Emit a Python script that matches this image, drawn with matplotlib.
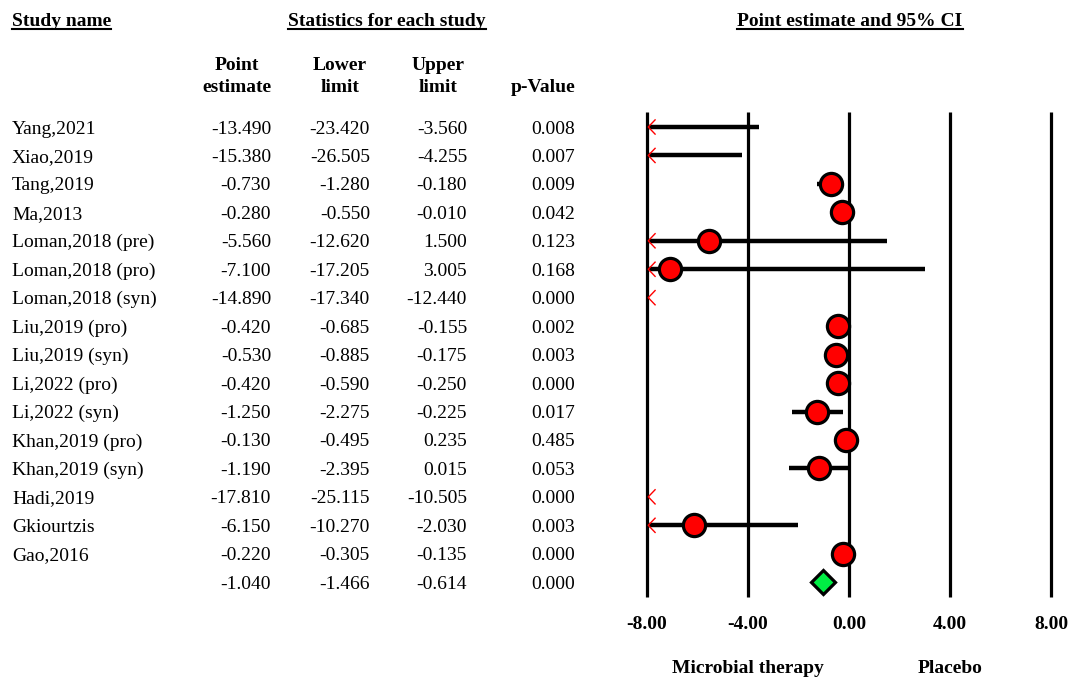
import numpy as np
import matplotlib
matplotlib.use("Agg")
import matplotlib.pyplot as plt
from matplotlib.transforms import blended_transform_factory

plt.rcParams['font.family'] = ['Liberation Serif', 'DejaVu Serif']

studies = ["Yang,2021", "Xiao,2019", "Tang,2019", "Ma,2013", "Loman,2018 (pre)",
           "Loman,2018 (pro)", "Loman,2018 (syn)", "Liu,2019 (pro)", "Liu,2019 (syn)",
           "Li,2022 (pro)", "Li,2022 (syn)", "Khan,2019 (pro)", "Khan,2019 (syn)",
           "Hadi,2019", "Gkiourtzis", "Gao,2016", ""]
point = np.array([-13.490, -15.380, -0.730, -0.280, -5.560, -7.100, -14.890, -0.420,
                  -0.530, -0.420, -1.250, -0.130, -1.190, -17.810, -6.150, -0.220, -1.040])
lower = np.array([-23.420, -26.505, -1.280, -0.550, -12.620, -17.205, -17.340, -0.685,
                  -0.885, -0.590, -2.275, -0.495, -2.395, -25.115, -10.270, -0.305, -1.466])
upper = np.array([-3.560, -4.255, -0.180, -0.010, 1.500, 3.005, -12.440, -0.155,
                  -0.175, -0.250, -0.225, 0.235, 0.015, -10.505, -2.030, -0.135, -0.614])
pvals = np.array([0.008, 0.007, 0.009, 0.042, 0.123, 0.168, 0.000, 0.002, 0.003,
                  0.000, 0.017, 0.485, 0.053, 0.000, 0.003, 0.000, 0.000])
ticks = [-8, -4, 0, 4, 8]
xmin, xmax = -8, 8

W, H = 1075, 678
fig = plt.figure(figsize=(W / 100, H / 100), dpi=100)
ax = fig.add_axes([0, 0, 1, 1])
ax.axis('off')

# pixel mapping: 0 at px 849, 25.25 px per unit; row i at px 127 + 28.45*i
ppu, x0 = 25.25, 849
rowh, y0 = 28.45, 127
ax.set_xlim(-x0 / ppu, (W - x0) / ppu)
ax.set_ylim((H - y0) / rowh, -y0 / rowh)

n = len(studies)
rows = np.arange(n)
top, bot = -0.53, n - 0.47

# vertical reference lines
for t in ticks:
    ax.plot([t, t], [top, bot], color='black', lw=2.3, solid_capstyle='butt', zorder=1)
    ax.text(t, n + 0.4, f"{t:.2f}", ha='center', va='center_baseline', fontsize=14, fontweight='bold')

ax.text(-4, n + 1.95, "Microbial therapy", ha='center', va='center_baseline', fontsize=14, fontweight='bold')
ax.text(4, n + 1.95, "Placebo", ha='center', va='center_baseline', fontsize=14, fontweight='bold')

# CI lines, markers, arrows
for i in rows[:-1]:
    lo, hi = max(lower[i], xmin), min(upper[i], xmax)
    if hi > lo:
        ax.plot([lo, hi], [i, i], color='black', lw=3.2, solid_capstyle='butt', zorder=2)
    if lower[i] < xmin:
        ax.plot([xmin + 0.32, xmin + 0.05, xmin + 0.32], [i - 0.25, i, i + 0.25],
                color='red', lw=1.0, zorder=4)
    if xmin <= point[i] <= xmax:
        ax.plot(point[i], i, 'o', ms=16, mfc='red', mec='black', mew=2.3, zorder=3)

ax.plot(point[-1], rows[-1], 'D', ms=12, mfc='#00ee44', mec='black', mew=2.3, zorder=3)

# table
tf = blended_transform_factory(fig.transFigure, ax.transData)
for i in rows:
    ax.text(12 / W, i, studies[i], transform=tf, ha='left', va='center_baseline', fontsize=14)
    ax.text(271 / W, i, f"{point[i]:.3f}", transform=tf, ha='right', va='center_baseline', fontsize=14)
    ax.text(370 / W, i, f"{lower[i]:.3f}", transform=tf, ha='right', va='center_baseline', fontsize=14)
    ax.text(467 / W, i, f"{upper[i]:.3f}", transform=tf, ha='right', va='center_baseline', fontsize=14)
    ax.text(575 / W, i, f"{pvals[i]:.3f}", transform=tf, ha='right', va='center_baseline', fontsize=14)

col_heads = [(237, "Point\nestimate"), (340, "Lower\nlimit"), (438, "Upper\nlimit"), (543, "p-Value")]
for xp, lab in col_heads:
    if "\n" in lab:
        a, b = lab.split("\n")
        fig.text(xp / W, 1 - 63 / H, a, ha='center', va='center_baseline', fontsize=14, fontweight='bold')
        fig.text(xp / W, 1 - 85 / H, b, ha='center', va='center_baseline', fontsize=14, fontweight='bold')
    else:
        fig.text(xp / W, 1 - 85 / H, lab, ha='center', va='center_baseline', fontsize=14, fontweight='bold')

heads = [fig.text(12 / W, 1 - 19 / H, "Study name", ha='left', va='center_baseline', fontsize=14, fontweight='bold'),
         fig.text(387 / W, 1 - 19 / H, "Statistics for each study", ha='center', va='center_baseline', fontsize=14, fontweight='bold'),
         fig.text(850 / W, 1 - 19 / H, "Point estimate and 95% CI", ha='center', va='center_baseline', fontsize=14, fontweight='bold')]

# underline headers
fig.canvas.draw()
r = fig.canvas.get_renderer()
for h in heads:
    bb = h.get_window_extent(r)
    yl = 1 - 29 / H
    fig.add_artist(plt.Line2D([bb.x0 / W, bb.x1 / W], [yl, yl], color='black', lw=1.5))

fig.savefig("out.png", dpi=100)
